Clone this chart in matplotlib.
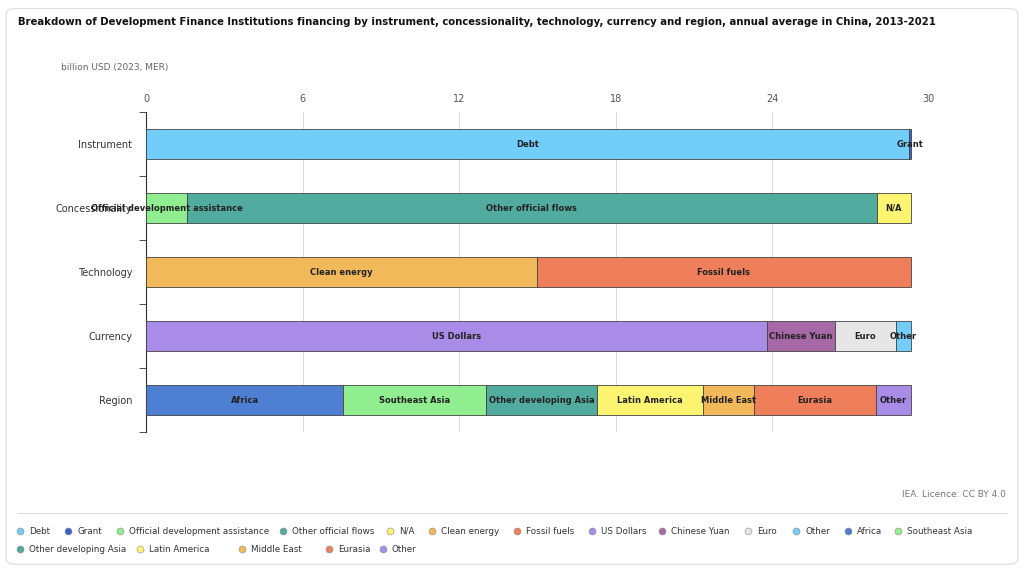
import matplotlib
matplotlib.use("Agg")
import matplotlib.pyplot as plt
from matplotlib.patches import FancyBboxPatch

categories = ["Instrument", "Concessionality", "Technology", "Currency", "Region"]
segments = [
    [("Debt", 29.23), ("Grant", 0.08)],
    [("Official development assistance", 1.57), ("Other official flows", 26.43), ("N/A", 1.31)],
    [("Clean energy", 14.98), ("Fossil fuels", 14.33)],
    [("US Dollars", 23.79), ("Chinese Yuan", 2.61), ("Euro", 2.34), ("Other", 0.57)],
    [("Africa", 7.55), ("Southeast Asia", 5.48), ("Other developing Asia", 4.25), ("Latin America", 4.06),
     ("Middle East", 1.96), ("Eurasia", 4.67), ("Other", 1.34)],
]
colors = [
    ["#73cdfa", "#3f63c8"],
    ["#90ee90", "#52ab9f", "#fdf571"],
    ["#f2b95a", "#ee7f5a"],
    ["#a98be8", "#a668a6", "#e6e6e6", "#73cdfa"],
    ["#4f7fd3", "#90ee90", "#52ab9f", "#fdf571", "#f2b95a", "#ee7f5a", "#a98be8"],
]
ticks = [0, 6, 12, 18, 24, 30]

fig = plt.figure(figsize=(10.24, 5.70), dpi=100)
bg = FancyBboxPatch((0.006, 0.01), 0.988, 0.975, boxstyle="round,pad=0,rounding_size=0.01",
                    transform=fig.transFigure, fc="white", ec="#dddddd", lw=0.8, zorder=-10)
fig.patches.append(bg)
ax = fig.add_axes([0.1426, 0.242, 0.907 - 0.1426, 0.5615])
ax.patch.set_alpha(0)
for i, (segs, cols) in enumerate(zip(segments, colors)):
    left = 0
    for (lab, v), c in zip(segs, cols):
        ax.barh(i, v, left=left, height=0.48, color=c, edgecolor="#444444", linewidth=0.6, zorder=3)
        if v > 0.05:
            ax.text(left + v / 2, i, lab, ha="center", va="center", fontsize=6, fontweight="bold",
                    color="#222222", zorder=4)
        left += v
ax.set_xlim(0, 30)
ax.set_ylim(4.5, -0.5)
ax.set_yticks(range(5))
ax.set_yticklabels(categories, fontsize=7, color="#333333")
ax.set_yticks([-0.5 + k for k in range(6)], minor=True)
ax.tick_params(axis="y", which="major", length=0, pad=10)
ax.tick_params(axis="y", which="minor", length=5, direction="out", color="#333333")
ax.xaxis.tick_top()
ax.set_xticks(ticks)
ax.set_xticklabels([str(t) for t in ticks], fontsize=7, color="#555555")
ax.tick_params(axis="x", length=0, pad=6)
ax.grid(axis="x", color="#dddddd", lw=0.8, zorder=0)
for s in ["top", "right", "bottom"]:
    ax.spines[s].set_visible(False)
ax.spines["left"].set_color("#333333")

fig.text(0.018, 0.962, "Breakdown of Development Finance Institutions financing by instrument, concessionality, technology, currency and region, annual average in China, 2013-2021",
         fontsize=7.3, fontweight="bold", va="center", color="#111111")
fig.text(0.06, 0.881, "billion USD (2023, MER)", fontsize=6.5, color="#666666", va="center")
fig.text(0.982, 0.133, "IEA. Licence: CC BY 4.0", fontsize=6.5, color="#777777", ha="right", va="center")
fig.add_artist(plt.Line2D([0.018, 0.982], [0.1, 0.1], transform=fig.transFigure, color="#dddddd", lw=0.8))

row1 = [("Debt", "#73cdfa", 20), ("Grant", "#3f63c8", 68), ("Official development assistance", "#90ee90", 120),
        ("Other official flows", "#52ab9f", 283), ("N/A", "#fdf571", 390), ("Clean energy", "#f2b95a", 432),
        ("Fossil fuels", "#ee7f5a", 517), ("US Dollars", "#a98be8", 592), ("Chinese Yuan", "#a668a6", 662),
        ("Euro", "#e6e6e6", 748), ("Other", "#73cdfa", 796), ("Africa", "#4f7fd3", 848),
        ("Southeast Asia", "#90ee90", 898)]
row2 = [("Other developing Asia", "#52ab9f", 20), ("Latin America", "#fdf571", 140),
        ("Middle East", "#f2b95a", 242), ("Eurasia", "#ee7f5a", 329), ("Other", "#a98be8", 383)]
for row, yp in [(row1, 531), (row2, 549)]:
    for lab, c, xp in row:
        y = 1 - yp / 570
        fig.add_artist(plt.Line2D([xp / 1024], [y], marker="o", markersize=5, color=c,
                                  markeredgecolor="#888888", markeredgewidth=0.4, transform=fig.transFigure))
        fig.text((xp + 9) / 1024, y, lab, fontsize=6.3, va="center", color="#333333")

fig.savefig("out.png", dpi=100)
